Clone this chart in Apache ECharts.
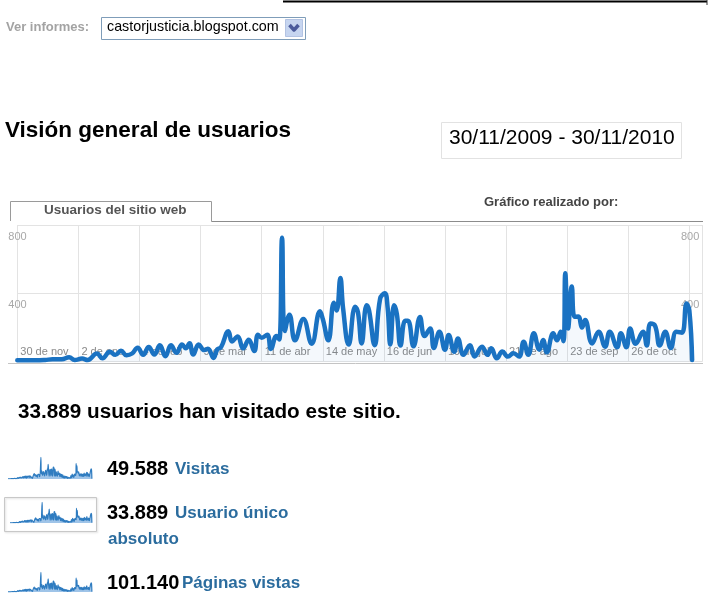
<!DOCTYPE html>
<html>
<head>
<meta charset="utf-8">
<script src="https://cdn.jsdelivr.net/npm/echarts@6/dist/echarts.min.js"></script>
<style>
html,body{margin:0;padding:0;background:#fff;}
#c{width:716px;height:600px;}
</style>
</head>
<body>
<div id="c"></div>
<script>
// ---- data (day offset from 30/11/2009, daily users) ----
const days = [0,5,10,15,19,24,28,31,35,38,43,46,50,53,56,59,62,65,68,71,74,77,80,83,86,89,91,93,95,98,101,103,106,108,110,114,116,119,122,125,128,130,132,135,137,140,141.5,143,144.5,147,150,154.5,159,163.5,165,168,171,172.5,174.5,176,179,182.5,184,186,188.7,190,193,196,198.5,200,201.5,203.5,205,207,209.5,211,214,217.5,220,223,225,228,231,233,236,238,241,244.5,247,251,254,256,259,262,265,268,271,273.5,276,279,282,284,286,289.5,291.5,293.5,295,296,297.5,299.5,301,303,305,306.7,310.5,314,317.5,320,324,326,329,331,334,338,340,342,344.5,347,350,353,356,359,361.5,363,364.5];
const users = [8,8,8,10,14,14,26,10,18,10,48,20,58,40,64,38,48,82,40,86,42,96,32,96,52,100,78,108,42,100,68,76,22,72,84,178,118,148,78,128,62,158,140,158,75,150,130,725,180,275,125,250,105,295,250,125,345,300,490,310,100,322,290,107,331,300,97,370,400,320,100,330,280,95,240,240,90,262,150,195,80,175,70,156,58,136,40,97,30,88,40,78,20,59,30,50,30,117,40,166,70,127,55,166,125,175,120,517,195,440,263,265,200,244,107,175,88,175,85,166,85,195,105,175,95,224,210,95,175,80,175,170,340,300,10];
const tickLabels = ['30 de nov','2 de ene','4 de feb','9 de mar','11 de abr','14 de may','16 de jun','19 de jul','21 de ago','23 de sep','26 de oct'];
const yTicks = [0,400,800];
const metricValues = ['49.588','33.889','101.140'];
const metricNames = ['Visitas','Usuario único','Páginas vistas'];
const totalUsers = '33.889';
const dateRange = '30/11/2009 - 30/11/2010';

const FONT = 'Liberation Sans, Arial, sans-serif';
const series = days.map((d,i)=>[d, users[i]]);

const chart = echarts.init(document.getElementById('c'), null, {renderer:'canvas'});

function spark(idx){
  return {
    type:'line', xAxisIndex: idx, yAxisIndex: idx, data: series, showSymbol:false, symbol:'none',
    smooth:0.4, silent:true,
    lineStyle:{color:'#2f7cc0', width:1.2},
    areaStyle:{color:'#9fc4e8', opacity:1}
  };
}

const option = {
  animation:false,
  backgroundColor:'#fff',
  grid:[
    {left:17.3, right:13.7, top:225, height:136.7},
    {left:8, width:84, top:457, height:22},
    {left:10, width:82, top:502, height:21},
    {left:8, width:84, top:572, height:20}
  ],
  xAxis:[
    {type:'value', gridIndex:0, min:0, max:370, interval:33,
      axisLine:{show:false}, axisTick:{show:false},
      splitLine:{show:true, lineStyle:{color:'#e3e3e3', width:1}},
      axisLabel:{inside:true, align:'left', margin:4, color:'#8a8a8a', fontSize:11, fontFamily:FONT,
        padding:[0,0,0,3], showMaxLabel:false,
        formatter:v=>{const k=Math.round(v/33); return (Math.abs(v-33*k)<0.01 && tickLabels[k])?tickLabels[k]:'';}}},
    {type:'value', gridIndex:1, min:0, max:365, show:false},
    {type:'value', gridIndex:2, min:0, max:365, show:false},
    {type:'value', gridIndex:3, min:0, max:365, show:false}
  ],
  yAxis:[
    {type:'value', gridIndex:0, min:yTicks[0], max:yTicks[2], interval:yTicks[1]-yTicks[0], position:'left',
      axisLine:{show:false}, axisTick:{show:false},
      splitLine:{show:true, lineStyle:{color:'#e3e3e3'}},
      axisLabel:{inside:true, margin:-9, verticalAlign:'top', padding:[6,0,0,0], color:'#a8a8a8', fontSize:11, fontFamily:FONT,
        showMinLabel:false}},
    {type:'value', gridIndex:1, min:0, max:740, show:false},
    {type:'value', gridIndex:2, min:0, max:740, show:false},
    {type:'value', gridIndex:3, min:0, max:740, show:false},
    {type:'value', gridIndex:0, min:yTicks[0], max:yTicks[2], interval:yTicks[1]-yTicks[0], position:'right',
      axisLine:{show:false}, axisTick:{show:false}, splitLine:{show:false},
      axisLabel:{inside:true, margin:3, verticalAlign:'top', padding:[6,0,0,0], color:'#a8a8a8', fontSize:11, fontFamily:FONT,
        showMinLabel:false}}
  ],
  series:[
    {type:'line', xAxisIndex:0, yAxisIndex:0, data:series, showSymbol:false, symbol:'none', smooth:0.45,
      lineStyle:{color:'#1a72c2', width:4.5, join:'round', cap:'round'},
      areaStyle:{color:'rgba(40,120,200,0.07)'}},
    spark(1), spark(2), spark(3)
  ],
  graphic:[
    {type:'line', shape:{x1:283,y1:1.5,x2:707,y2:1.5}, style:{stroke:'#000', lineWidth:2}},
    {type:'line', shape:{x1:707,y1:0,x2:707,y2:5}, style:{stroke:'#333', lineWidth:1}},
    {type:'text', left:6, top:21, style:{text:'Ver informes:', font:'bold 13px '+FONT, fill:'#a3a3a3'}},
    {type:'rect', shape:{x:101.5,y:17.5,width:204,height:22}, style:{fill:'#fff', stroke:'#7f9db9', lineWidth:1}},
    {type:'text', left:107, top:20, style:{text:'castorjusticia.blogspot.com', font:'14.3px '+FONT, fill:'#000'}},
    {type:'rect', shape:{x:285.5,y:19.5,width:17,height:17}, style:{fill:'#c6d5f0', stroke:'#b3c3e3', lineWidth:1}},
    {type:'polyline', shape:{points:[[289.5,25],[294,30],[298.5,25]]}, style:{stroke:'#4b5b9c', lineWidth:3.5, fill:null, lineJoin:'round'}},
    {type:'text', left:5, top:119, style:{text:'Visión general de usuarios', font:'bold 22.5px '+FONT, fill:'#000'}},
    {type:'rect', shape:{x:441.5,y:122.5,width:240,height:36}, style:{fill:null, stroke:'#e2e2e2', lineWidth:1}},
    {type:'text', left:449, top:128, style:{text:dateRange, font:'21px '+FONT, fill:'#000'}},
    {type:'polyline', shape:{points:[[10.5,221],[10.5,201.5],[211.5,201.5],[211.5,221.5]]}, style:{stroke:'#9a9a9a', lineWidth:1, fill:null}},
    {type:'line', shape:{x1:211.5,y1:221.5,x2:703,y2:221.5}, style:{stroke:'#8c8c8c', lineWidth:1}},
    {type:'text', left:44, top:203, style:{text:'Usuarios del sitio web', font:'bold 13.5px '+FONT, fill:'#555'}},
    {type:'text', left:484, top:196, style:{text:'Gráfico realizado por:', font:'bold 13px '+FONT, fill:'#444'}},
    {type:'line', shape:{x1:8,y1:363.5,x2:703,y2:363.5}, style:{stroke:'#c4c4c4', lineWidth:1}},
    {type:'text', left:18, top:402, style:{text:totalUsers+' usuarios han visitado este sitio.', font:'bold 20.7px '+FONT, fill:'#000'}},
    {type:'rect', shape:{x:4.5,y:497.5,width:92,height:34}, style:{fill:null, stroke:'#c8c8c8', lineWidth:1, shadowColor:'rgba(0,0,0,0.15)', shadowBlur:2, shadowOffsetX:1, shadowOffsetY:1}},
    {type:'text', left:107, top:459, style:{text:metricValues[0], font:'bold 20px '+FONT, fill:'#000'}},
    {type:'text', left:175, top:461, style:{text:metricNames[0], font:'bold 17px '+FONT, fill:'#2b6c9e'}},
    {type:'text', left:107, top:503, style:{text:metricValues[1], font:'bold 20px '+FONT, fill:'#000'}},
    {type:'text', left:175, top:505, style:{text:metricNames[1], font:'bold 17px '+FONT, fill:'#2b6c9e'}},
    {type:'text', left:108, top:531, style:{text:'absoluto', font:'bold 17px '+FONT, fill:'#2b6c9e'}},
    {type:'text', left:107, top:573, style:{text:metricValues[2], font:'bold 20px '+FONT, fill:'#000'}},
    {type:'text', left:182, top:575, style:{text:metricNames[2], font:'bold 17px '+FONT, fill:'#2b6c9e'}}
  ]
};
chart.setOption(option);
</script>
</body>
</html>
